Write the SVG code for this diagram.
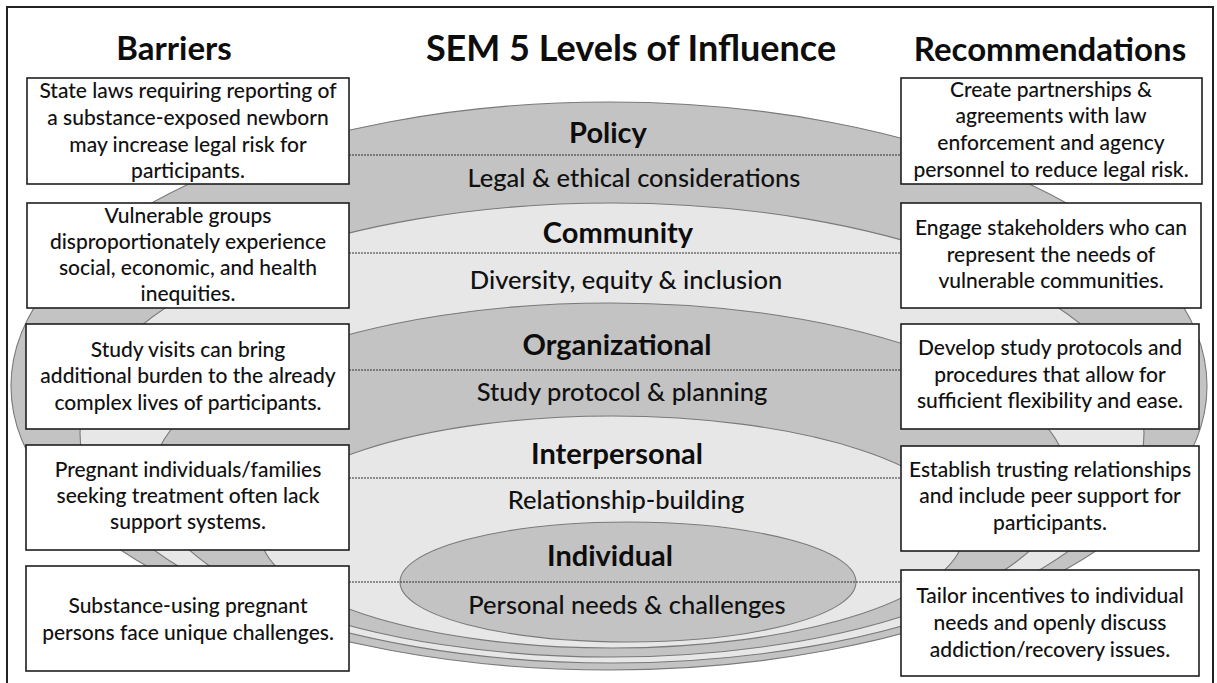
<svg xmlns="http://www.w3.org/2000/svg" width="1217" height="683" viewBox="0 0 1217 683">
  <style>
    .dark { fill: #c3c3c3; stroke: #7a7a7a; stroke-width: 1.1; }
    .pale { fill: #e7e7e7; stroke: #7a7a7a; stroke-width: 1.1; }
    .box { fill: #ffffff; stroke: #1e1e1e; stroke-width: 1.6; }
    .head { font-family: Lato, "Liberation Sans", sans-serif; font-weight: 700; font-size: 33px; fill: #0d0d0d; text-anchor: middle; }
    .title { font-size: 36px; }
    .lvl { font-family: Lato, "Liberation Sans", sans-serif; font-weight: 700; font-size: 29px; fill: #0d0d0d; text-anchor: middle; }
    .sub { font-family: Lato, "Liberation Sans", sans-serif; font-weight: 500; font-size: 25.5px; fill: #111; text-anchor: middle; }
    .txt { font-family: Lato, "Liberation Sans", sans-serif; font-weight: 500; font-size: 21px; fill: #111; text-anchor: middle; }
    .dot { stroke: #333; stroke-width: 1; stroke-dasharray: 2 1; fill: none; }
  </style>

  <rect width="1217" height="683" fill="#ffffff"/>
  <!-- outer frame (bottom edge runs off the page) -->
  <rect x="7" y="7" width="1206" height="700" fill="none" stroke="#222" stroke-width="2"/>

  <!-- headings -->
  <g id="headings">
    <text class="head" x="174" y="60">Barriers</text>
    <text class="head title" x="631" y="61">SEM 5 Levels of Influence</text>
    <text class="head" x="1050" y="61">Recommendations</text>
  </g>

  <!-- nested levels, outermost first -->
  <g id="level-policy">
    <ellipse class="dark" cx="609" cy="386" rx="598" ry="284"/>
    <text class="lvl" x="608" y="143">Policy</text>
    <text class="sub" x="634" y="187">Legal &amp; ethical considerations</text>
  </g>
  <g id="level-community">
    <ellipse class="pale" cx="612" cy="433" rx="532" ry="230"/>
    <text class="lvl" x="618" y="243">Community</text>
    <text class="sub" x="626" y="289">Diversity, equity &amp; inclusion</text>
  </g>
  <g id="level-organizational">
    <ellipse class="dark" cx="610" cy="480" rx="458" ry="177"/>
    <text class="lvl" x="617" y="355">Organizational</text>
    <text class="sub" x="622" y="401">Study protocol &amp; planning</text>
  </g>
  <g id="level-interpersonal">
    <ellipse class="pale" cx="612" cy="532" rx="352" ry="116"/>
    <text class="lvl" x="617" y="464">Interpersonal</text>
    <text class="sub" x="626" y="509">Relationship-building</text>
  </g>
  <g id="level-individual">
    <ellipse class="dark" cx="628" cy="582" rx="228" ry="60"/>
    <text class="lvl" x="610" y="566">Individual</text>
    <text class="sub" x="627" y="614">Personal needs &amp; challenges</text>
  </g>

  <!-- dotted leaders from barrier to recommendation -->
  <g id="connectors">
    <line class="dot" x1="349" y1="155" x2="901" y2="155"/>
    <line class="dot" x1="349" y1="253" x2="901" y2="253"/>
    <line class="dot" x1="349" y1="370" x2="901" y2="370"/>
    <line class="dot" x1="349" y1="478" x2="901" y2="478"/>
    <line class="dot" x1="349" y1="582" x2="901" y2="582"/>
  </g>

  <!-- barriers column -->
  <g id="barrier-policy">
    <rect class="box" x="27" y="78" width="322" height="106"/>
    <text class="txt" x="188" y="98">State laws requiring reporting of</text>
    <text class="txt" x="188" y="125">a substance-exposed newborn</text>
    <text class="txt" x="188" y="152">may increase legal risk for</text>
    <text class="txt" x="188" y="178">participants.</text>
  </g>
  <g id="barrier-community">
    <rect class="box" x="27" y="203" width="322" height="105"/>
    <text class="txt" x="188" y="223">Vulnerable groups</text>
    <text class="txt" x="188" y="249">disproportionately experience</text>
    <text class="txt" x="188" y="275">social, economic, and health</text>
    <text class="txt" x="188" y="301">inequities.</text>
  </g>
  <g id="barrier-organizational">
    <rect class="box" x="26" y="324" width="323" height="105"/>
    <text class="txt" x="188" y="357">Study visits can bring</text>
    <text class="txt" x="188" y="383">additional burden to the already</text>
    <text class="txt" x="188" y="410">complex lives of participants.</text>
  </g>
  <g id="barrier-interpersonal">
    <rect class="box" x="26" y="445" width="323" height="105"/>
    <text class="txt" x="188" y="477">Pregnant individuals/families</text>
    <text class="txt" x="188" y="503">seeking treatment often lack</text>
    <text class="txt" x="188" y="529">support systems.</text>
  </g>
  <g id="barrier-individual">
    <rect class="box" x="26" y="566" width="323" height="105"/>
    <text class="txt" x="188" y="613">Substance-using pregnant</text>
    <text class="txt" x="188" y="640">persons face unique challenges.</text>
  </g>

  <!-- recommendations column -->
  <g id="rec-policy">
    <rect class="box" x="901" y="78" width="301" height="106"/>
    <text class="txt" x="1051" y="97">Create partnerships &amp;</text>
    <text class="txt" x="1051" y="123">agreements with law</text>
    <text class="txt" x="1051" y="150">enforcement and agency</text>
    <text class="txt" x="1051" y="177">personnel to reduce legal risk.</text>
  </g>
  <g id="rec-community">
    <rect class="box" x="901" y="203" width="300" height="105"/>
    <text class="txt" x="1051" y="235">Engage stakeholders who can</text>
    <text class="txt" x="1051" y="262">represent the needs of</text>
    <text class="txt" x="1051" y="288">vulnerable communities.</text>
  </g>
  <g id="rec-organizational">
    <rect class="box" x="901" y="324" width="298" height="105"/>
    <text class="txt" x="1050" y="355">Develop study protocols and</text>
    <text class="txt" x="1050" y="382">procedures that allow for</text>
    <text class="txt" x="1050" y="408">sufficient flexibility and ease.</text>
  </g>
  <g id="rec-interpersonal">
    <rect class="box" x="901" y="446" width="298" height="105"/>
    <text class="txt" x="1050" y="477">Establish trusting relationships</text>
    <text class="txt" x="1050" y="503">and include peer support for</text>
    <text class="txt" x="1050" y="530">participants.</text>
  </g>
  <g id="rec-individual">
    <rect class="box" x="901" y="570" width="298" height="106"/>
    <text class="txt" x="1050" y="603">Tailor incentives to individual</text>
    <text class="txt" x="1050" y="630">needs and openly discuss</text>
    <text class="txt" x="1050" y="657">addiction/recovery issues.</text>
  </g>
</svg>
